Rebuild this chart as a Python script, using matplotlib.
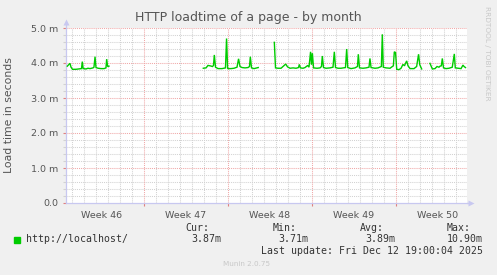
import numpy as np
import matplotlib
matplotlib.use("Agg")
import matplotlib.pyplot as plt
from matplotlib.patches import Rectangle
from matplotlib.transforms import blended_transform_factory

# ---- data (days since left edge of graph, load time in ms) ----
nan = np.nan
days = [0.11, 0.25, 0.33, 0.42, 0.54, 0.83, 1.08, 1.29, 1.36, 1.43, 1.67, 1.83, 2.00, 2.25,
        2.33, 2.42, 2.50, 2.67, 2.92, 3.17, 3.33, 3.39, 3.47, 3.58, 3.62,
        11.44, 11.67, 11.83, 12.00, 12.21, 12.29, 12.36, 12.46, 12.67, 13.00, 13.29, 13.38,
        13.47, 13.75, 14.00, 14.25, 14.38, 14.50, 14.67, 14.92, 15.17, 15.29, 15.36, 15.46,
        15.67, 16.02, 16.10,
        17.36, 17.46, 17.67, 17.92, 18.11, 18.31, 18.46, 18.67, 18.92, 19.17, 19.38, 19.44,
        19.54, 19.75, 19.92, 20.14, 20.25, 20.38, 20.46, 20.53, 20.63, 20.92, 21.17, 21.29,
        21.36, 21.46, 21.67, 22.00, 22.25, 22.36, 22.46, 22.67, 22.92, 23.29, 23.39, 23.48,
        23.75, 24.08, 24.29, 24.36, 24.46, 24.75, 25.00, 25.25, 25.33, 25.42, 25.75, 26.00,
        26.28, 26.36, 26.44, 26.67, 27.00, 27.28, 27.36, 27.46, 27.56, 27.75, 27.92, 28.08,
        28.21, 28.29, 28.39, 28.50, 28.67, 29.00, 29.22, 29.38, 29.48, 29.64, 29.80,
        30.33, 30.53, 30.75, 30.92, 31.08, 31.17, 31.28, 31.36, 31.46, 31.67, 31.92, 32.19,
        32.36, 32.44, 32.67, 32.92, 33.08, 33.17, 33.29]
load_ms = [3.91, 3.96, 3.99, 3.88, 3.82, 3.82, 3.83, 3.84, 4.04, 3.84, 3.83, 3.85, 3.84, 3.86,
           3.88, 4.18, 3.87, 3.85, 3.84, 3.84, 3.86, 4.11, 3.90, 3.91, nan,
           3.85, 3.86, 3.93, 3.92, 3.90, 3.93, 4.23, 3.88, 3.84, 3.84, 3.86, 4.70,
           3.84, 3.84, 3.85, 3.88, 4.12, 3.90, 3.87, 3.86, 3.87, 3.90, 4.18, 3.86,
           3.84, 3.87, nan,
           4.59, 3.86, 3.85, 3.85, 3.91, 3.97, 3.89, 3.85, 3.86, 3.85, 3.87, 3.96,
           3.86, 3.85, 3.87, 3.93, 3.88, 4.32, 3.95, 4.28, 3.86, 3.85, 3.86, 3.90,
           4.20, 3.87, 3.85, 3.86, 3.88, 4.32, 3.87, 3.85, 3.85, 3.87, 4.40, 3.87,
           3.84, 3.86, 3.90, 4.25, 3.86, 3.85, 3.86, 3.88, 4.13, 3.87, 3.85, 3.86,
           3.90, 4.82, 3.88, 3.86, 3.85, 3.92, 4.32, 4.30, 3.82, 3.81, 3.85, 3.96,
           3.92, 3.99, 4.06, 3.92, 3.84, 3.84, 3.90, 4.25, 3.95, 3.83, nan,
           3.99, 3.83, 3.84, 3.90, 3.88, 3.91, 3.92, 4.13, 3.86, 3.84, 3.85, 3.88,
           4.26, 3.86, 3.85, 3.84, 3.94, 3.90, 3.87]

week_labels = ["Week 46", "Week 47", "Week 48", "Week 49", "Week 50"]
week_centers = [3.0, 10.0, 17.0, 24.0, 31.0]
week_bounds = [6.5, 13.5, 20.5, 27.5]
y_ticks = [0, 1, 2, 3, 4, 5]
y_tick_labels = ["0.0", "1.0 m", "2.0 m", "3.0 m", "4.0 m", "5.0 m"]

series_name = "http://localhost/"
stat_names = ["Cur:", "Min:", "Avg:", "Max:"]
stat_values = ["3.87m", "3.71m", "3.89m", "10.90m"]
title = "HTTP loadtime of a page - by month"
ylabel = "Load time in seconds"
last_update = "Last update: Fri Dec 12 19:00:04 2025"
footer = "Munin 2.0.75"
side_text = "RRDTOOL / TOBI OETIKER"

# ---- layout ----
W, H = 497, 275
fig = plt.figure(figsize=(W / 100, H / 100), dpi=100, facecolor="#F0F0F0")

def fx(px):
    return px / W

def fy(py):
    return 1 - py / H

x0, x1, y0, y1 = 66, 467, 28, 203
ax = fig.add_axes([fx(x0), fy(y1), fx(x1) - fx(x0), fy(y0) - fy(y1)])
ax.set_facecolor("white")
xmax = (x1 - x0) / 12.0
ax.set_xlim(0, xmax)
ax.set_ylim(0, 5)

text_col = "#555555"
grid_minor = "#D2D2D2"
grid_major = "#F0A8A8"
axis_col = "#C8C8F0"
dot = (0, (1, 1))

# grid
minor_x = [d + 0.5 for d in range(0, 34) if (d + 0.5) < xmax and (d + 0.5) not in week_bounds]
ax.vlines(minor_x, 0, 5, colors=grid_minor, linestyles=dot, lw=0.75, zorder=1)
minor_y = [v / 5 for v in range(1, 25) if v % 5 != 0]
ax.hlines(minor_y, 0, xmax, colors=grid_minor, linestyles=dot, lw=0.75, zorder=1)
ax.vlines(week_bounds, 0, 5, colors=grid_major, linestyles=dot, lw=0.75, zorder=2)
ax.hlines(y_ticks[1:], 0, xmax, colors=grid_major, linestyles=dot, lw=0.75, zorder=2)

# data
ax.plot(days, load_ms, color="#00CC00", lw=1.0, zorder=5, solid_joinstyle="miter")

# spines / axes arrows
for s in ["top", "right"]:
    ax.spines[s].set_visible(False)
ax.spines["left"].set_color(axis_col)
ax.spines["bottom"].set_color(axis_col)
ax.spines["left"].set_linewidth(0.9)
ax.spines["bottom"].set_linewidth(0.9)
ax.plot([0, 0], [1.0, 1.035], transform=ax.transAxes, color=axis_col, lw=0.9, clip_on=False)
ax.plot([0], [1.035], transform=ax.transAxes, marker="^", ms=4, color=axis_col, clip_on=False, mec="none")
ax.plot([1.0, 1.01], [0, 0], transform=ax.transAxes, color=axis_col, lw=0.9, clip_on=False)
ax.plot([1.01], [0], transform=ax.transAxes, marker=">", ms=4, color=axis_col, clip_on=False, mec="none")

# ticks
ax.set_xticks(week_bounds)
ax.set_xticklabels([""] * len(week_bounds))
ax.tick_params(axis="x", which="major", length=2.5, color="#E08080", width=0.8)
ax.set_yticks(y_ticks)
ax.set_yticklabels(y_tick_labels, fontsize=6.8, color=text_col)
ax.tick_params(axis="y", which="major", length=2.5, color="#E08080", width=0.8, pad=3)
ax.set_yticks(minor_y, minor=True)
ax.tick_params(axis="y", which="minor", length=2, color=grid_minor, width=0.8)

tr = blended_transform_factory(ax.transData, ax.transAxes)
for lab, c in zip(week_labels, week_centers):
    ax.text(c, -0.045, lab, transform=tr, ha="center", va="top", fontsize=6.8, color=text_col)

# title / labels
fig.text(fx(248), fy(18), title, ha="center", va="center", fontsize=9, color=text_col)
fig.text(fx(9), fy(115.5), ylabel, ha="center", va="center", rotation=90, fontsize=7.8, color=text_col)
fig.text(fx(487.5), fy(53.5), side_text, ha="center", va="center", rotation=270, fontsize=5.3, color="#C8C8C8")

# legend
mono = "DejaVu Sans Mono"
leg_col = "#333333"
fig.patches.append(Rectangle((fx(14), fy(242.7)), fx(6), fy(236.7) - fy(242.7),
                             transform=fig.transFigure, color="#00CC00"))
fig.text(fx(26), fy(239.3), series_name, family=mono, fontsize=7.1, color=leg_col, ha="left", va="center")
name_x = [185.2, 272.2, 359.5, 446.2]
val_x = [191.2, 278.5, 365.5, 446.8]
for n, v, nx, vx in zip(stat_names, stat_values, name_x, val_x):
    fig.text(fx(nx), fy(227.7), n, family=mono, fontsize=7.1, color=leg_col, ha="left", va="center")
    fig.text(fx(vx), fy(239.3), v, family=mono, fontsize=7.1, color=leg_col, ha="left", va="center")
fig.text(fx(261.2), fy(251), last_update, family=mono, fontsize=7.1, color=leg_col, ha="left", va="center")
fig.text(fx(223), fy(264), footer, fontsize=5.2, color="#C8C8C8", ha="left", va="center")

fig.savefig("out.png", dpi=100, facecolor=fig.get_facecolor())
